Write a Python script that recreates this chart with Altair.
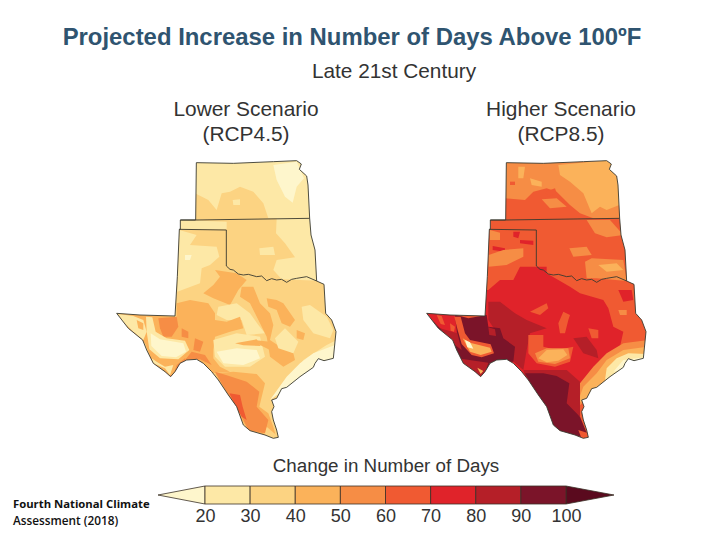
import altair as alt

TITLE = "Projected Increase in Number of Days Above 100ºF"
BAND_LABELS = ["<20","20-30","30-40","40-50","50-60","60-70","70-80","80-90","90-100",">100"]
BAND_COLORS = ["#FEF6CC","#FDE8A6","#FCD382","#FBB25A","#F68D45","#F05A32","#E0232A","#B51F28","#7B1429","#5A0A1E"]
TICKS = [20,30,40,50,60,70,80,90,100]

# Map geometry in map units; both panels share it
OUTLINE = [(289,38),(400,40),(520,35),(590,32),(604,42),(598,58),(620,78),(624,105),(629,205),(633,255),(645,300),(650,393),
 (672,403),(677,490),(695,510),(708,545),(700,625),(672,632),(655,626),(645,640),(640,652),(600,680),(560,712),(545,716),(530,745),(515,750),(522,770),
 (515,785),(520,810),(530,840),(535,862),(520,865),(495,855),(450,842),(430,825),(410,770),(385,735),(355,690),(335,665),(310,640),(290,628),
 (260,630),(240,640),(225,665),(212,680),(195,665),(160,640),(140,600),(128,570),(85,535),(50,490),(120,495),(225,498),(232,380),(238,238),(241,238),(241,210),(287,210)]
RED_RIVER = [(379,348),(390,358),(400,360),(415,372),(430,375),(445,373),(470,380),(485,378),(500,392),(515,386),(530,390),(545,388),(560,397),(575,388),(590,385),(620,380),(650,393)]
TX_PANHANDLE = [(238,238),(379,240),(379,348)]
KS_SOUTH = [(241,210),(287,210),(629,205)]

def at(ox, oy, pts):
    return [(x+ox, y+oy) for x, y in pts]

LOW_ZONES = [
 ("30-40",[(-30,-10),(790,-10),(790,900),(-30,900)]),
 # Kansas
 ("20-30",[(280,30),(610,25),(640,100),(640,205),(505,205),(490,160),(460,125),(420,110),(390,125),(365,130),(350,180),(325,150),(285,130)]),
 ("<20",[(520,45),(590,35),(612,85),(590,110),(578,158),(555,140),(530,90)]),
 ("20-30",[(398,150),(420,148),(420,165),(400,165)]),
 # Oklahoma
 ("20-30",[(530,205),(640,205),(655,392),(545,388),(520,360),(530,330),(585,322),(555,280),(528,250)]),
 ("20-30",[(478,295),(520,290),(525,315),(480,315)]),
 ("20-30",[(241,210),(380,215),(380,238),(241,238)]),
 # Panhandle of Texas
 ("20-30",[(238,240),(290,255),(270,285),(350,290),(358,320),(330,345),(305,355),(300,400),(232,425)]),
 ("<20",[(255,315),(275,315),(270,330),(255,330)]),
 # North central orange
 ("40-50",at(210,360,[(135,0),(200,10),(230,30),(205,60),(180,105),(130,85),(100,70),(130,45),(150,20)])),
 # Central and east Texas
 ("20-30",at(210,360,[(145,110),(200,100),(240,130),(265,165),(285,190),(230,195),(215,150),(170,150),(140,135)])),
 ("40-50",at(210,360,[(215,50),(250,50),(270,100),(300,130),(310,165),(300,210),(330,230),(370,250),(375,270),(340,290),(300,260),(290,200),(270,160),(240,100),(210,80)])),
 ("40-50",at(210,360,[(290,85),(320,90),(340,100),(375,150),(360,170),(335,160),(320,120),(295,110)])),
 ("40-50",at(210,360,[(380,180),(405,190),(400,210),(380,205)])),
 ("20-30",at(210,360,[(395,110),(420,105),(470,140),(490,180),(480,205),(430,190),(400,150)])),
 ("20-30",at(210,360,[(315,205),(345,175),(385,215),(370,250),(325,235)])),
 ("20-30",at(210,360,[(400,270),(470,225),(500,210),(500,265),(430,295),(385,340),(350,345)])),
 ("<20",[(510,750),(560,680),(600,640),(640,610),(705,585),(705,630),(640,655),(560,715)]),
 # West Texas big orange
 ("40-50",at(210,360,[(20,100),(60,90),(115,100),(135,130),(135,150),(170,155),(210,140),(220,175),(180,185),(135,200),(130,240),(130,265),(150,290),(180,305),(120,310),(60,275),(20,290),(-10,290),(-10,145),(20,140)])),
 ("40-50",at(30,450,[(25,42),(200,50),(205,110),(230,175),(190,225),(175,225),(130,195),(105,130),(60,90)])),
 ("50-60",at(30,450,[(145,55),(200,50),(205,80),(185,110),(160,110),(150,85)])),
 ("50-60",at(30,450,[(215,85),(235,95),(235,115),(215,110)])),
 ("50-60",at(30,450,[(255,115),(280,125),(270,155),(250,150)])),
 ("50-60",at(30,450,[(225,180),(245,155),(285,165),(305,195),(270,178)])),
 ("50-60",at(30,450,[(112,175),(130,192),(175,225),(190,225),(200,195),(225,175),(235,190),(190,240),(165,235),(105,190)])),
 ("20-30",at(30,450,[(25,42),(70,48),(100,60),(110,95),(100,120),(70,95),(40,65)])),
 ("40-50",at(30,450,[(80,60),(100,70),(100,90),(85,85)])),
 ("20-30",at(30,450,[(108,50),(127,52),(137,95),(170,115),(225,122),(238,150),(205,178),(150,175),(118,148),(110,95)])),
 ("<20",at(30,450,[(122,100),(150,118),(220,130),(228,155),(198,172),(155,168),(124,138)])),
 ("20-30",at(30,450,[(125,175),(140,185),(165,200),(190,195),(180,225),(165,205),(130,190)])),
 # Edwards Plateau
 ("20-30",at(210,360,[(130,210),(200,190),(270,200),(285,260),(240,290),(165,290),(135,260)])),
 ("<20",at(210,360,[(140,245),(200,235),(260,240),(270,265),(220,285),(160,280)])),
 ("40-50",at(210,360,[(195,220),(260,208),(272,228),(220,226)])),
 ("40-50",at(210,360,[(250,210),(300,215),(300,240),(270,225)])),
 # South Texas
 ("40-50",[(345,670),(400,665),(470,672),(495,700),(478,770),(505,790),(520,830),(530,866),(450,850),(380,735)]),
 ("30-40",[(500,830),(535,860),(515,868),(490,850)]),
 ("50-60",[(345,665),(378,675),(440,695),(478,725),(470,770),(505,810),(495,850),(445,840),(420,790),(385,735)]),
 ("60-70",[(388,730),(420,735),(428,770),(440,810),(425,800),(405,765)]),
]
HIGH_ZONES = [
 ("60-70",[(-30,-10),(790,-10),(790,900),(-30,900)]),
 # Kansas
 ("50-60",[(280,30),(610,25),(640,100),(640,205),(550,205),(510,190),(480,165),(440,125),(410,115),(370,125),(345,150),(285,145)]),
 ("40-50",[(445,45),(600,30),(628,105),(628,165),(590,180),(570,170),(545,190),(520,130),(480,95),(450,75)]),
 ("40-50",[(325,50),(345,50),(340,85),(325,85)]),
 ("40-50",[(360,85),(395,95),(395,110),(365,105)]),
 ("60-70",[(300,95),(315,95),(315,105),(300,105)]),
 ("50-60",[(395,148),(440,145),(470,170),(420,175)]),
 ("60-70",[(405,125),(435,115),(440,130),(415,140)]),
 # Oklahoma
 ("50-60",[(530,210),(600,210),(640,255),(590,262),(555,250)]),
 ("50-60",[(478,295),(530,290),(545,315),(490,320)]),
 ("50-60",[(525,335),(545,325),(640,330),(650,393),(560,385),(530,385)]),
 ("40-50",[(565,345),(620,340),(640,360),(590,365)]),
 # Panhandle of Texas
 ("50-60",[(240,240),(270,248),(270,270),(240,270)]),
 ("70-80",[(310,245),(330,245),(325,265),(310,260)]),
 ("70-80",[(330,270),(370,272),(370,285),(330,280)]),
 ("70-80",[(248,288),(285,295),(285,305),(248,300)]),
 ("50-60",[(236,315),(280,300),(340,295),(340,320),(290,345),(236,350)]),
 # Texas reds
 ("70-80",at(210,360,[(25,60),(60,30),(100,30),(120,-10),(200,-10),(200,10),(270,50),(300,70),(370,90),(385,115),(400,170),(430,185),(420,230),(440,225),(400,270),(370,290),(350,330),(300,370),(-10,350),(15,60)])),
 ("70-80",at(210,360,[(415,60),(455,60),(460,90),(430,95)])),
 ("80-90",at(210,360,[(25,95),(60,95),(105,130),(140,150),(200,175),(150,190),(140,240),(130,300),(95,270),(65,210),(25,150)])),
 ("80-90",at(210,360,[(280,205),(320,200),(350,240),(355,265),(310,250)])),
 ("60-70",at(210,360,[(150,125),(200,100),(205,115),(180,135)])),
 ("60-70",at(210,360,[(250,125),(270,135),(265,150),(255,190),(240,190),(235,160)])),
 ("60-70",at(210,360,[(325,175),(355,180),(355,205),(335,205)])),
 ("60-70",at(210,360,[(145,195),(190,195),(190,230),(230,240),(280,230),(270,275),(225,290),(170,280),(145,250)])),
 ("50-60",at(210,360,[(165,250),(200,235),(265,235),(270,265),(225,282),(175,275)])),
 ("40-50",at(210,360,[(175,265),(200,240),(250,238),(262,255),(235,272),(200,277)])),
 # East Texas and Gulf coast
 ("50-60",at(210,360,[(415,120),(440,120),(440,135),(420,135)])),
 ("50-60",[(505,770),(510,700),(550,650),(590,610),(640,580),(715,570),(715,640),(640,660),(560,720)]),
 ("40-50",[(500,765),(520,710),(560,670),(590,630),(640,600),(712,590),(712,640),(640,660),(560,720)]),
 ("20-30",[(585,690),(590,655),(620,625),(655,610),(708,612),(708,640),(640,660)]),
 ("<20",[(610,665),(640,630),(705,622),(705,635),(640,660)]),
 # South Texas
 ("80-90",at(210,360,[(130,300),(260,300),(300,335),(300,440),(140,335)])),
 ("90-100",[(345,670),(400,670),(440,678),(478,700),(470,760),(510,800),(535,860),(480,860),(430,830),(380,735)]),
 ("60-70",[(505,840),(535,850),(535,866),(515,866)]),
 # West Texas
 ("90-100",at(30,450,[(145,55),(200,45),(205,80),(240,85),(250,115),(285,140),(280,185),(225,185),(190,235),(175,235),(115,195),(100,125),(60,90),(15,40),(110,45)])),
 ("70-80",at(30,450,[(15,38),(105,45),(112,110),(60,85)])),
 ("60-70",at(30,450,[(50,45),(65,48),(75,75),(62,72)])),
 ("60-70",at(30,450,[(90,70),(105,80),(102,95),(92,92)])),
 ("80-90",at(30,450,[(60,85),(112,100),(125,150),(105,135)])),
 ("80-90",at(30,450,[(112,175),(205,188),(190,235),(170,230),(125,195)])),
 ("80-90",at(30,450,[(205,82),(225,88),(228,108),(208,105)])),
 ("60-70",at(30,450,[(103,50),(122,50),(135,100),(150,120),(212,133),(222,160),(185,172),(155,165),(125,132),(113,90)])),
 ("40-50",at(30,450,[(128,115),(150,128),(210,143),(215,155),(182,165),(150,155)])),
 ("<20",at(30,450,[(135,120),(150,127),(160,146),(142,142)])),
 ("40-50",at(30,450,[(172,203),(190,213),(182,222)])),
]

# Colour bar caps
LEFT_CAP = [(174,1035),(315,1008),(315,1062)]
RIGHT_CAP = [(1398,1008),(1542,1035),(1398,1062)]
PANEL_SHIFT = 930

def feature(rings, band="", shift=0):
    rings = [[[x+shift, y] for x, y in r] for r in rings]
    rings = [r + [r[0]] for r in rings]
    return {"type":"Feature","properties":{"band":band},"geometry":{"type":"Polygon","coordinates":rings}}

def line(points, shift=0):
    return {"type":"Feature","properties":{},"geometry":{"type":"LineString","coordinates":[[x+shift,y] for x,y in points]}}

def fc(features):
    return alt.InlineData(values={"type":"FeatureCollection","features":features}, format=alt.DataFormat(property="features", type="json"))

zones = [feature([p],b) for b,p in LOW_ZONES] + [feature([p],b,PANEL_SHIFT) for b,p in HIGH_ZONES]
MASK = [(-35,-12),(-35,905),(795,905),(795,-12)]
masks = [feature([MASK, OUTLINE],"m",s) for s in (0,PANEL_SHIFT)]
borders = []
for s in (0,PANEL_SHIFT):
    borders += [feature([OUTLINE],"o",s), line(RED_RIVER,s), line(TX_PANHANDLE,s), line(KS_SOUTH,s)]

proj = alt.Projection(type="identity", scale=1/3, translate=[92,142]).to_dict()
color_scale = alt.Scale(domain=BAND_LABELS, range=BAND_COLORS)

zone_layer = alt.Chart(fc(zones)).mark_geoshape(strokeWidth=0).encode(
    color=alt.Color("properties.band:N", scale=color_scale, legend=None)).project(**proj)
mask_layer = alt.Chart(fc(masks)).mark_geoshape(fill="white", strokeWidth=0).project(**proj)
border_layer = alt.Chart(fc(borders)).mark_geoshape(filled=False, stroke="#3a3a30", strokeWidth=0.9).project(**proj)

caps = [feature([LEFT_CAP],"<20"), feature([RIGHT_CAP],">100")]
cap_layer = alt.Chart(fc(caps)).mark_geoshape(stroke="#3a3026", strokeWidth=0.8).encode(
    color=alt.Color("properties.band:N", scale=color_scale, legend=None)).project(**proj)

bar_rows = [{"lo":TICKS[i],"hi":TICKS[i+1],"band":BAND_LABELS[i+1]} for i in range(len(TICKS)-1)]
bar = alt.Chart(alt.Data(values=bar_rows)).mark_rect(stroke="#3a3026", strokeWidth=0.8).encode(
    x=alt.X("lo:Q", scale=alt.Scale(domain=[20,100], range=[197,558]),
            axis=alt.Axis(values=TICKS, title=None, domain=False, ticks=False, grid=False, labelFontSize=18,
                          labelFont="Liberation Sans", labelColor="#333", labelPadding=0, offset=-25, labelFlush=False, format="d")),
    x2="hi:Q", y=alt.value(478), y2=alt.value(496),
    color=alt.Color("band:N", scale=color_scale, legend=None))

def text(s, x, y, size, color="#333", font="Liberation Sans", weight="normal", align="center"):
    return alt.Chart(alt.Data(values=[{"a":1}])).mark_text(text=s, align=align, baseline="alphabetic", fontSize=size,
        color=color, font=font, fontWeight=weight).encode(x=alt.value(x), y=alt.value(y))

texts = [
 text(TITLE, 344, 37, 23.9, "#2F5470", weight="bold"),
 text("Late 21st Century", 386, 70, 20.8),
 text("Lower Scenario", 238, 108, 20.9),
 text("(RCP4.5)", 238, 133, 20.9),
 text("Higher Scenario", 553, 108, 20.9),
 text("(RCP8.5)", 553, 133, 20.9),
 text("Change in Number of Days", 378, 464, 18.8),
 text("Fourth National Climate", 5, 500, 11.3, "#111", "Open Sans", "bold", "left"),
 text("Assessment (2018)", 5, 517, 11.8, "#111", "Open Sans", 600, "left"),
]

chart = alt.layer(zone_layer, mask_layer, border_layer, cap_layer, bar, *texts).properties(
    width=704, height=524, padding=0, autosize="none", background="white"
).configure_view(stroke=None)
chart.save("out.html", embed_options={"renderer":"svg","actions":False})
